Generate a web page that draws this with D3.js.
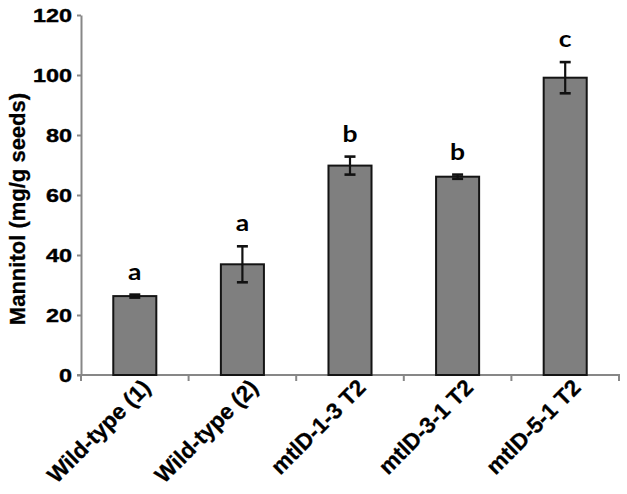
<!DOCTYPE html>
<html>
<head>
<meta charset="utf-8">
<script src="https://cdn.jsdelivr.net/npm/d3@7"></script>
<style>
  body { margin: 0; background: #fff; }
  svg text { font-family: "Liberation Sans", Arial, sans-serif; font-weight: bold; fill: #000; }
</style>
</head>
<body>
<svg id="chart" width="627" height="494"></svg>
<script>
// data
const categories = ["Wild-type (1)", "Wild-type (2)", "mtlD-1-3 T2", "mtlD-3-1 T2", "mtlD-5-1 T2"];
const means = [26.3, 36.9, 69.8, 66.1, 99.1];
const errors = [0.5, 6.0, 3.0, 0.7, 5.2];
const letters = ["a", "a", "b", "b", "c"];
const yTicks = [0, 20, 40, 60, 80, 100, 120];

const margin = {top: 15, right: 8, bottom: 119, left: 81};
const width = 627 - margin.left - margin.right;
const height = 494 - margin.top - margin.bottom;
const axisGrey = "#878787";

const svg = d3.select("#chart");
const g = svg.append("g")
    .attr("transform", "translate(" + margin.left + "," + margin.top + ")");

const x = d3.scaleBand().domain(categories).range([0, width]).paddingInner(0.6).paddingOuter(0.3);
const y = d3.scaleLinear().domain([0, 120]).range([height, 0]);

const rows = categories.map((c, i) => ({name: c, value: means[i], err: errors[i], letter: letters[i]}));

// y axis
const yAxis = g.append("g")
    .call(d3.axisLeft(y).tickValues(yTicks).tickSize(4).tickSizeOuter(0));
yAxis.select(".domain").attr("stroke", axisGrey).attr("stroke-width", 2);
yAxis.selectAll(".tick line").attr("stroke", axisGrey).attr("stroke-width", 2);
yAxis.selectAll(".tick text")
    .attr("x", 0)
    .attr("dy", "0.34em")
    .attr("transform", "translate(-9,0) scale(1.3,1)")
    .style("font-size", "18px")
    .style("stroke", "#000").style("stroke-width", 0.4);

// x axis, ticks at category boundaries
const xAxisG = g.append("g").attr("transform", "translate(0," + height + ")");
xAxisG.selectAll(".bt")
    .data(d3.range(categories.length + 1))
    .enter().append("line")
    .attr("x1", i => i * x.step())
    .attr("x2", i => i * x.step())
    .attr("y1", 0).attr("y2", 6)
    .attr("stroke", axisGrey).attr("stroke-width", 2);
xAxisG.append("line")
    .attr("x1", -4).attr("x2", width + 1)
    .attr("stroke", axisGrey).attr("stroke-width", 2);

// bars
g.append("g").selectAll("rect")
    .data(rows)
    .enter().append("rect")
    .attr("x", d => x(d.name))
    .attr("y", d => y(d.value))
    .attr("width", x.bandwidth())
    .attr("height", d => y(0) - y(d.value))
    .attr("fill", "#7f7f7f")
    .attr("stroke", "#141414")
    .attr("stroke-width", 2);

// error bars
const eb = g.append("g").selectAll("g")
    .data(rows)
    .enter().append("g")
    .attr("transform", d => "translate(" + (x(d.name) + x.bandwidth() / 2) + ",0)");
eb.append("line")
    .attr("y1", d => y(d.value + d.err))
    .attr("y2", d => y(d.value - d.err))
    .attr("stroke", "#111").attr("stroke-width", 2.2);
eb.selectAll(".cap")
    .data(d => [d.value + d.err, d.value - d.err])
    .enter().append("line")
    .attr("x1", -5.5).attr("x2", 5.5)
    .attr("y1", v => y(v)).attr("y2", v => y(v))
    .attr("stroke", "#111").attr("stroke-width", 2.6);

// significance letters
g.append("g").selectAll("text")
    .data(rows)
    .enter().append("text")
    .attr("transform", d => "translate(" + (x(d.name) + x.bandwidth() / 2) + "," + (y(d.value + d.err) - 15) + ") scale(1.15,1)")
    .attr("text-anchor", "middle")
    .style("font-size", "23px")
    .style("font-family", "Lato, 'Open Sans', sans-serif")
    .text(d => d.letter);

// category labels
xAxisG.selectAll("text")
    .data(rows)
    .enter().append("text")
    .attr("transform", d => "translate(" + (x(d.name) + x.bandwidth() / 2 + 17) + ",14) rotate(-45)")
    .attr("text-anchor", "end")
    .style("font-size", "22.5px")
    .style("stroke", "#000").style("stroke-width", 0.3)
    .text(d => d.name);

// y axis title
svg.append("text")
    .attr("transform", "translate(25,209) rotate(-90)")
    .attr("text-anchor", "middle")
    .style("font-size", "22px")
    .style("stroke", "#000").style("stroke-width", 0.3)
    .text("Mannitol (mg/g seeds)");
</script>
</body>
</html>
